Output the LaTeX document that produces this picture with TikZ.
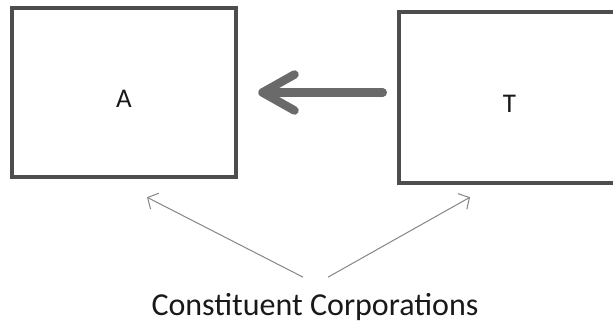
\documentclass[tikz,border=0pt]{standalone}
\usepackage{fontspec}
\setmainfont{Carlito}
\usetikzlibrary{arrows.meta}
\definecolor{boxgray}{HTML}{4D4D4D}
\definecolor{arrowgray}{HTML}{6A6A6A}
\definecolor{thingray}{HTML}{858585}
\begin{document}
\begin{tikzpicture}[x=1pt,y=-1pt,
  corp/.style={draw=boxgray, line width=4.5pt, fill=white, inner sep=0pt,
    text height=31pt, text depth=0pt,
    font=\fontsize{27}{30}\selectfont, text=black!90},
  bigarrow/.style={draw=arrowgray, line width=8.5pt, line cap=round,
    -{Straight Barb[length=32pt,width=36pt,round]}},
  thinarrow/.style={draw=thingray, line width=1pt,
    -{Straight Barb[length=8pt,width=18pt]}},
  caption/.style={font=\fontsize{32}{35}\selectfont, text=black!90, inner sep=0pt}]
  \useasboundingbox (0,0) rectangle (613,323);
  \clip (0,0) rectangle (613,323);
  \node[corp, minimum width=224pt, minimum height=169pt] (A) at (124,92.5) {A};
  \node[corp, minimum width=221pt, minimum height=171pt] (T) at (509.5,97.5) {T};
  \node[caption] (C) at (315,307) {Constituent Corporations};
  \draw[bigarrow, shorten <=14pt, shorten >=20pt] (T.west |- A.center) -- (A.east);
  \draw[thinarrow] ([xshift=-12pt,yshift=16pt]C.north) -- ([xshift=23pt,yshift=-18pt]A.south);
  \draw[thinarrow] ([xshift=13pt,yshift=16pt]C.north) -- ([xshift=-39.5pt,yshift=-12pt]T.south);
\end{tikzpicture}
\end{document}
